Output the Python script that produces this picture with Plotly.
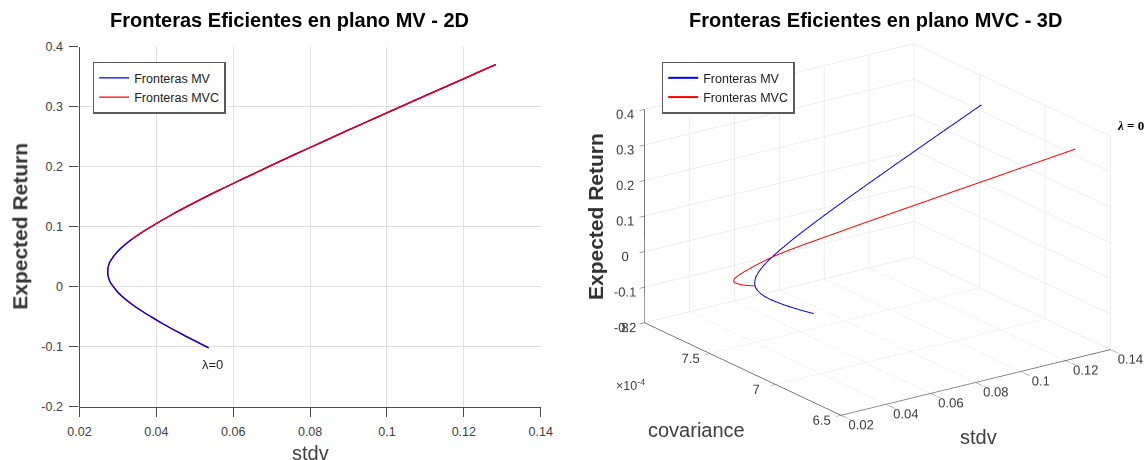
import plotly.graph_objects as go

# ---- data ----
ret = [-0.102, -0.09, -0.08, -0.07, -0.06, -0.05, -0.04, -0.03, -0.02, -0.01,
       0.0, 0.01, 0.02, 0.03, 0.04, 0.05, 0.06, 0.07, 0.08, 0.09,
       0.10, 0.12, 0.14, 0.16, 0.18, 0.20, 0.22, 0.24, 0.26, 0.28,
       0.30, 0.32, 0.34, 0.36, 0.37]
stdv = [0.0536, 0.0499, 0.0469, 0.0440, 0.0412, 0.0386, 0.0361, 0.0338, 0.0318, 0.0301,
        0.0288, 0.0278, 0.0274, 0.0274, 0.0278, 0.0288, 0.0301, 0.0318, 0.0338, 0.0361,
        0.0386, 0.0440, 0.0499, 0.0561, 0.0626, 0.0692, 0.0759, 0.0828, 0.0896, 0.0966,
        0.1036, 0.1106, 0.1177, 0.1247, 0.1283]
cov_mv = [7.285e-4, 7.285e-4, 7.285e-4, 7.285e-4, 7.285e-4, 7.285e-4, 7.285e-4, 7.285e-4, 7.285e-4, 7.285e-4,
          7.285e-4, 7.285e-4, 7.285e-4, 7.285e-4, 7.285e-4, 7.285e-4, 7.285e-4, 7.285e-4, 7.285e-4, 7.285e-4,
          7.285e-4, 7.285e-4, 7.285e-4, 7.285e-4, 7.285e-4, 7.285e-4, 7.285e-4, 7.285e-4, 7.285e-4, 7.285e-4,
          7.285e-4, 7.285e-4, 7.285e-4, 7.285e-4, 7.285e-4]
cov_mvc = [7.735e-4, 7.700e-4, 7.673e-4, 7.647e-4, 7.620e-4, 7.595e-4, 7.569e-4, 7.544e-4, 7.519e-4, 7.493e-4,
           7.468e-4, 7.443e-4, 7.418e-4, 7.395e-4, 7.373e-4, 7.352e-4, 7.333e-4, 7.314e-4, 7.295e-4, 7.275e-4,
           7.253e-4, 7.203e-4, 7.152e-4, 7.101e-4, 7.051e-4, 7.000e-4, 6.949e-4, 6.898e-4, 6.848e-4, 6.797e-4,
           6.746e-4, 6.696e-4, 6.645e-4, 6.594e-4, 6.569e-4]

stdv_ticks = [0.02, 0.04, 0.06, 0.08, 0.10, 0.12, 0.14]
stdv_labels = ["0.02", "0.04", "0.06", "0.08", "0.1", "0.12", "0.14"]
ret_ticks = [-0.2, -0.1, 0.0, 0.1, 0.2, 0.3, 0.4]
ret_labels = ["-0.2", "-0.1", "0", "0.1", "0.2", "0.3", "0.4"]
cov_ticks = [6.5e-4, 7.0e-4, 7.5e-4, 8.0e-4]
cov_labels = ["6.5", "7", "7.5", "8"]

BLUE = "#0000ff"
RED = "#ff0000"
AX = "#4d4d4d"
GRID = "#e0e0e0"
TXT = "#333333"
FONT = "Liberation Sans"
W, H = 1148, 460

fig = go.Figure()

# ---- 2D panel ----
fig.add_trace(go.Scatter(x=stdv, y=ret, mode="lines", name="Fronteras MVC",
                         line=dict(color=RED, width=1.3, shape="spline"),
                         legend="legend", legendrank=2, xaxis="x", yaxis="y"))
fig.add_trace(go.Scatter(x=stdv, y=ret, mode="lines", name="Fronteras MV",
                         line=dict(color=BLUE, width=1.3, shape="spline"),
                         legend="legend", legendrank=1, xaxis="x", yaxis="y"))
fig.add_trace(go.Scatter(x=stdv[18:], y=ret[18:], mode="lines", name="Fronteras MVC",
                         line=dict(color=RED, width=1.3, shape="spline"),
                         showlegend=False, xaxis="x", yaxis="y"))

# ---- 3D panel ----
fig.add_trace(go.Scatter3d(x=stdv, y=cov_mv, z=ret, mode="lines", name="Fronteras MV",
                           line=dict(color=BLUE, width=2), legend="legend2", scene="scene"))
fig.add_trace(go.Scatter3d(x=stdv, y=cov_mvc, z=ret, mode="lines", name="Fronteras MVC",
                           line=dict(color=RED, width=2), legend="legend2", scene="scene"))

tickfont = dict(family=FONT, size=12.5, color="#404040")

axis3d = dict(showgrid=True, gridcolor=GRID, gridwidth=1, showline=True, linecolor=AX,
              linewidth=1.5, showbackground=False, zeroline=False, showspikes=False,
              ticks="outside", ticklen=6, tickcolor=AX, tickfont=tickfont, tickangle=0,
              title=dict(text=""))

L = 3.0     # eye distance (orthographic: only the direction matters)
F = 1.6     # box scale
fig.update_layout(
    width=W, height=H,
    margin=dict(l=0, r=0, t=0, b=0, autoexpand=False),
    paper_bgcolor="white", plot_bgcolor="white",
    font=dict(family=FONT, color=TXT),
    xaxis=dict(domain=[79.5 / W, 540.7 / W], range=[0.02, 0.14], tickvals=stdv_ticks,
               ticktext=stdv_labels, showgrid=True, gridcolor=GRID, zeroline=False,
               showline=True, linecolor=AX, linewidth=1.3, ticks="outside", ticklen=9,
               tickcolor=AX, tickfont=tickfont, ticklabelstandoff=4, anchor="y",
               automargin=False),
    yaxis=dict(domain=[1 - 406.7 / H, 1 - 46.7 / H], range=[-0.2, 0.4], tickvals=ret_ticks,
               ticktext=ret_labels, showgrid=True, gridcolor=GRID, zeroline=False,
               showline=True, linecolor=AX, linewidth=1.3, ticks="outside", ticklen=9,
               tickcolor=AX, tickfont=tickfont, ticklabelstandoff=4, anchor="x",
               automargin=False),
    legend=dict(x=92.7 / W, y=1 - 61.7 / H, xanchor="left", yanchor="top",
                bgcolor="white", bordercolor="#5a5a5a", borderwidth=1.5,
                font=dict(family=FONT, size=12.5, color="#222222"),
                tracegroupgap=0, traceorder="normal"),
    legend2=dict(x=661.7 / W, y=1 - 61.7 / H, xanchor="left", yanchor="top",
                 bgcolor="white", bordercolor="#5a5a5a", borderwidth=1.5,
                 font=dict(family=FONT, size=12.5, color="#222222"),
                 tracegroupgap=0, traceorder="normal"),
    scene=dict(
        domain=dict(x=[0.53, 0.9992], y=[0.05, 0.952]),
        xaxis=dict(axis3d, range=[0.02, 0.14], tickvals=stdv_ticks, ticktext=stdv_labels),
        yaxis=dict(axis3d, range=[6.5e-4, 8.0e-4], tickvals=cov_ticks, ticktext=cov_labels,
                   ticklen=16),
        zaxis=dict(axis3d, range=[-0.2, 0.4], tickvals=ret_ticks, ticktext=ret_labels),
        aspectmode="manual", aspectratio=dict(x=1 * F, y=1.0137 * F, z=0.683 * F),
        camera=dict(projection=dict(type="orthographic"),
                    eye=dict(x=-0.5494 * L, y=-0.7637 * L, z=0.3390 * L),
                    up=dict(x=0, y=0, z=1), center=dict(x=0, y=0, z=0)),
        bgcolor="white",
    ),
)

ann = [
    dict(text="<b>Fronteras Eficientes en plano MV - 2D</b>", x=289 / W, y=1 - 20 / H,
         font=dict(size=20, color="#000000")),
    dict(text="<b>Fronteras Eficientes en plano MVC - 3D</b>", x=875 / W, y=1 - 20 / H,
         font=dict(size=20, color="#000000")),
    dict(text="<b>Expected Return</b>", x=20 / W, y=1 - 226.7 / H, textangle=-90,
         font=dict(size=21, color="#333333")),
    dict(text="stdv", x=310 / W, y=1 - 453 / H, font=dict(size=20, color="#404040")),
    dict(text="<b>Expected Return</b>", x=595 / W, y=1 - 217 / H, textangle=-90,
         font=dict(size=21, color="#333333")),
    dict(text="covariance", x=696 / W, y=1 - 430 / H, font=dict(size=20, color="#404040")),
    dict(text="stdv", x=978 / W, y=1 - 437 / H, font=dict(size=20, color="#404040")),
    dict(text="×10<sup>-4</sup>", x=630 / W, y=1 - 385 / H, font=dict(size=12.5, color="#404040")),
    dict(text="<b><i>λ</i> = 0</b>", x=1130 / W, y=1 - 125 / H,
         font=dict(family="Liberation Serif", size=13, color="#000000")),
]
for a in ann:
    a.update(xref="paper", yref="paper", showarrow=False, xanchor="center", yanchor="middle")
fig.update_layout(annotations=ann)
fig.add_annotation(text="λ=0", x=0.0545, y=-0.129, xref="x", yref="y", showarrow=False,
                   font=dict(size=13, color="#262626"))

fig.write_html("out.html", config={"displayModeBar": False},
               post_script="document.body.style.margin='0px';document.body.style.padding='0px';")
